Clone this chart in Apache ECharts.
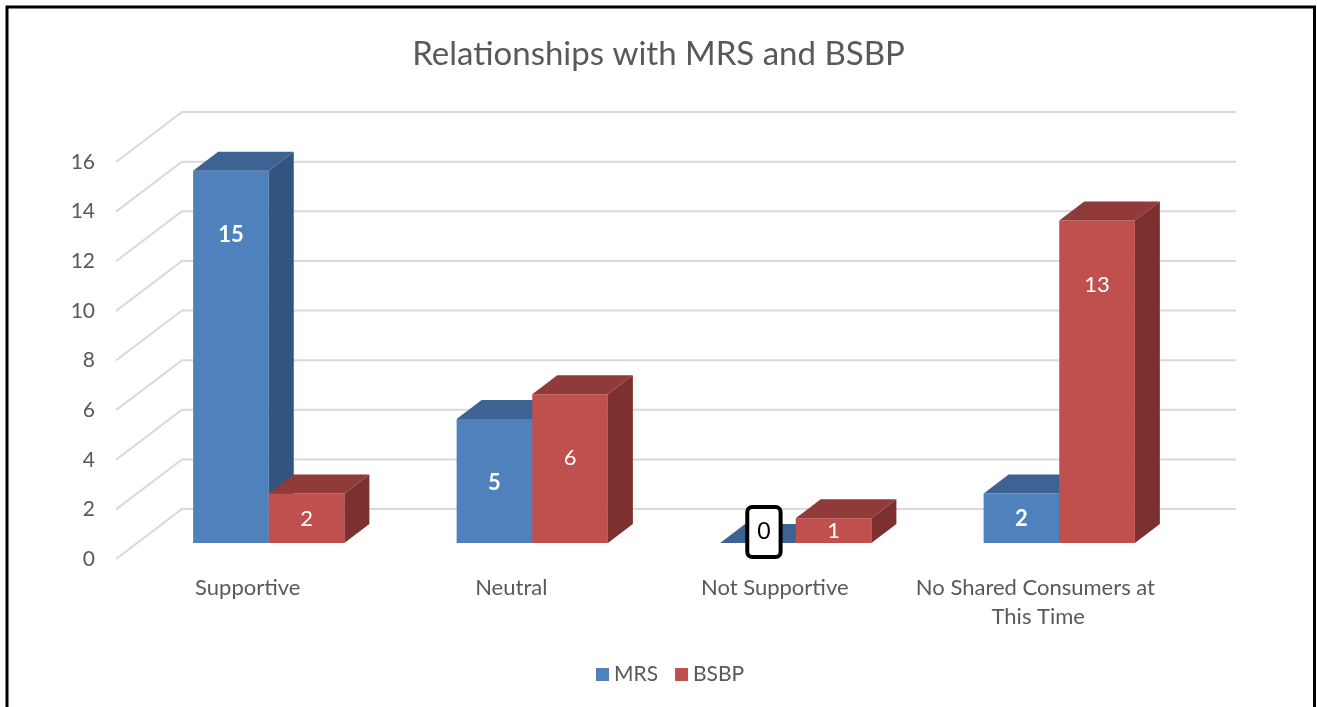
<!DOCTYPE html>
<html>
<head>
<meta charset="utf-8">
<script src="https://cdn.jsdelivr.net/npm/echarts@6/dist/echarts.min.js"></script>
<style>
  html, body { margin: 0; padding: 0; background: #fff; }
  #chart { width: 1317px; height: 707px; }
</style>
</head>
<body>
<div id="chart"></div>
<script>
// data
const categories = ['Supportive', 'Neutral', 'Not Supportive', 'No Shared Consumers at This Time'];
const mrsValues = [15, 5, 0, 2];
const bsbpValues = [2, 6, 1, 13];
const yTicks = [0, 2, 4, 6, 8, 10, 12, 14, 16];

const FONT = 'Lato, "Open Sans", sans-serif';
const TEXT = '#595959';

// fake 3d geometry (pixels)
const WALL = [66, 50];   // depth of the back wall
const OFF = [21, 16];    // bars front plane, behind the axis plane
const DEPTH = [25, 19];  // thickness of a bar
const BAR_RATIO = 0.287; // bar width / category band

const colors = {
  mrs: { front: '#4F81BD', top: '#3C6391', side: '#335581' },
  bsbp: { front: '#C0504D', top: '#903B39', side: '#7C302F' }
};

function wallRenderer(params, api) {
  const v = api.value(1);
  const p = api.coord([0, v]);
  const bw = api.size([1, 0])[0];
  const left = p[0] - bw / 2;
  const n = categories.length;
  return {
    type: 'polyline',
    shape: { points: [[left, p[1]], [left + WALL[0], p[1] - WALL[1]], [left + WALL[0] + n * bw, p[1] - WALL[1]]] },
    style: { stroke: '#d9d9d9', lineWidth: 2, fill: null },
    silent: true
  };
}

function barRenderer(first, c, bold) {
  return function (params, api) {
    const i = api.value(0), v = api.value(1);
    const base = api.coord([i, 0]);
    const top = api.coord([i, v]);
    const bw = api.size([1, 0])[0];
    const w = bw * BAR_RATIO;
    const x0 = base[0] + OFF[0] - (first ? w : 0);
    const x1 = x0 + w;
    const yb = base[1] - OFF[1];
    const yt = top[1] - OFF[1];
    const h = yb - yt;
    const kids = [];
    if (h > 0) {
      kids.push({ type: 'rect', shape: { x: x0, y: yt, width: w, height: h }, style: { fill: c.front } });
      kids.push({ type: 'polygon', shape: { points: [[x1, yt], [x1 + DEPTH[0], yt - DEPTH[1]], [x1 + DEPTH[0], yb - DEPTH[1]], [x1, yb]] }, style: { fill: c.side } });
    }
    kids.push({ type: 'polygon', shape: { points: [[x0, yt], [x0 + DEPTH[0], yt - DEPTH[1]], [x1 + DEPTH[0], yt - DEPTH[1]], [x1, yt]] }, style: { fill: c.top } });
    if (v > 0) {
      kids.push({ type: 'text', style: {
        text: String(v), x: (x0 + x1) / 2, y: yt + Math.min(64, h * 0.52),
        align: 'center', verticalAlign: 'middle', fill: '#fff',
        fontSize: 22, fontWeight: bold ? 'bold' : 'normal', fontFamily: FONT
      } });
    } else {
      kids.push({ type: 'text', z2: 10, style: {
        text: '0', x: (x0 + x1) / 2 + 6, y: yb - 11,
        align: 'center', verticalAlign: 'middle', fill: '#000',
        fontSize: 23, fontFamily: FONT, backgroundColor: '#fff',
        borderColor: '#000', borderWidth: 4, borderRadius: 3, padding: [13, 8, 10, 8]
      } });
    }
    return { type: 'group', children: kids };
  };
}

const chart = echarts.init(document.getElementById('chart'));
chart.setOption({
  animation: false,
  backgroundColor: '#fff',
  title: {
    text: 'Relationships with MRS and BSBP',
    left: 'center', top: 33,
    textStyle: { fontFamily: FONT, fontSize: 33, fontWeight: 'normal', color: TEXT }
  },
  legend: {
    data: ['MRS', 'BSBP'],
    bottom: 17, left: 591,
    icon: 'rect', itemWidth: 13, itemHeight: 13, itemGap: 17,
    textStyle: { fontFamily: FONT, fontSize: 21, color: TEXT }
  },
  grid: { left: 116, right: 147, top: 162, bottom: 148 },
  xAxis: {
    type: 'category',
    data: categories,
    axisLine: { show: false },
    axisTick: { show: false },
    axisLabel: {
      color: TEXT, fontFamily: FONT, fontSize: 22, margin: 14,
      width: 255, overflow: 'break', lineHeight: 29, interval: 0
    }
  },
  yAxis: {
    type: 'value',
    min: 0, max: 16, interval: 2,
    axisLine: { show: false },
    axisTick: { show: false },
    splitLine: { show: false },
    axisLabel: { color: TEXT, fontFamily: FONT, fontSize: 21, margin: 21 }
  },
  graphic: [{
    type: 'rect',
    shape: { x: 7, y: 7, width: 1307.5, height: 720 },
    style: { fill: null, stroke: '#000', lineWidth: 3 },
    silent: true
  }],
  series: [
    {
      name: 'wall', type: 'custom', renderItem: wallRenderer, silent: true, z: 1,
      data: yTicks.map(t => [0, t])
    },
    {
      name: 'MRS', type: 'custom', z: 2,
      itemStyle: { color: colors.mrs.front },
      renderItem: barRenderer(true, colors.mrs, true),
      data: mrsValues.map((v, i) => [i, v])
    },
    {
      name: 'BSBP', type: 'custom', z: 3,
      itemStyle: { color: colors.bsbp.front },
      renderItem: barRenderer(false, colors.bsbp, false),
      data: bsbpValues.map((v, i) => [i, v])
    }
  ]
});
</script>
</body>
</html>
